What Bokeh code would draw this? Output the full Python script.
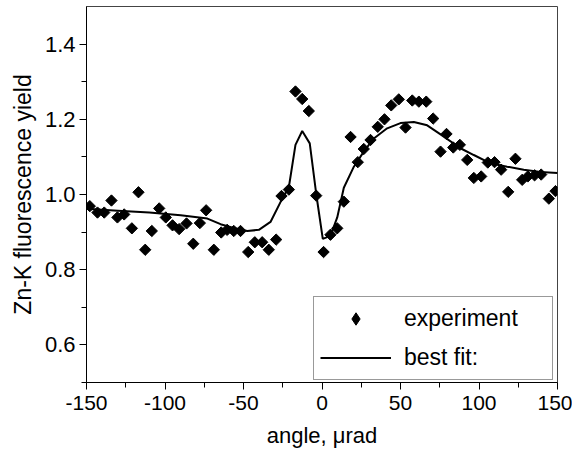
import numpy as np
from bokeh.plotting import figure
from bokeh.models import Range1d, Legend, LegendItem, FixedTicker, CustomJSTickFormatter
from bokeh.embed import file_html
from bokeh.resources import INLINE

# experimental points (angle in µrad, Zn-K fluorescence yield)
exp_x = [-147.9, -143.0, -138.7, -134.1, -130.3, -126.0, -121.1, -116.9, -112.6, -108.4,
         -103.7, -99.5, -95.2, -91.0, -86.3, -82.0, -77.8, -73.8, -68.9, -64.2,
         -60.4, -56.2, -51.9, -47.0, -42.8, -38.1, -33.9, -29.2, -25.8, -21.1,
         -16.9, -12.6, -8.4, -3.7, 1.0, 5.4, 9.7, 13.9, 18.2, 22.8,
         26.6, 30.9, 35.5, 39.8, 44.1, 48.9, 53.2, 57.5, 61.7, 66.4,
         70.8, 75.5, 79.3, 83.6, 87.8, 92.5, 96.7, 101.4, 105.6, 109.9,
         114.1, 118.6, 123.2, 127.5, 131.1, 135.4, 139.6, 144.5, 148.7]
exp_y = [0.969, 0.952, 0.952, 0.984, 0.939, 0.947, 0.910, 1.006, 0.853, 0.903,
         0.963, 0.939, 0.918, 0.908, 0.923, 0.869, 0.924, 0.958, 0.853, 0.899,
         0.906, 0.903, 0.903, 0.847, 0.873, 0.873, 0.853, 0.880, 0.996, 1.013,
         1.274, 1.254, 1.222, 0.997, 0.847, 0.893, 0.910, 0.981, 1.153, 1.086,
         1.121, 1.145, 1.180, 1.200, 1.237, 1.253, 1.178, 1.250, 1.247, 1.247,
         1.202, 1.114, 1.161, 1.125, 1.132, 1.092, 1.044, 1.048, 1.085, 1.086,
         1.066, 1.007, 1.095, 1.039, 1.048, 1.051, 1.053, 0.989, 1.009]

# best-fit curve
fit_x = [-150, -130, -110, -90, -73, -64.6, -56.2, -47.6, -40.2, -32.8,
         -25.8, -21.1, -16.9, -12.6, -7.8, -3.5, 0.5, 5.4, 9.7, 13.9,
         20.3, 26.6, 33, 41.5, 50, 58.5, 67, 75.5, 88.2, 96.7,
         107.3, 117.9, 128.5, 139.2, 150]
fit_y = [0.962, 0.957, 0.952, 0.945, 0.936, 0.921, 0.911, 0.903, 0.906, 0.927,
         0.985, 1.020, 1.132, 1.169, 1.136, 0.996, 0.882, 0.890, 0.939, 1.018,
         1.074, 1.114, 1.149, 1.176, 1.190, 1.193, 1.184, 1.160, 1.123, 1.105,
         1.083, 1.074, 1.066, 1.060, 1.057]

x_ticks = [-150, -100, -50, 0, 50, 100, 150]
x_minor = [-125, -75, -25, 25, 75, 125]
y_ticks = [0.6, 0.8, 1.0, 1.2, 1.4]
y_minor = [0.5, 0.7, 0.9, 1.1, 1.3]

FONT = "Liberation Sans"

p = figure(width=572, height=450, output_backend="svg", toolbar_location=None,
           x_range=Range1d(-150, 150), y_range=Range1d(0.5, 1.5),
           min_border_left=86, min_border_right=15, min_border_top=6,
           min_border_bottom=65)
p.grid.visible = False
p.background_fill_color = "white"
p.border_fill_color = "white"
p.outline_line_color = "#444444"
p.outline_line_width = 1

fit_r = p.line(fit_x, fit_y, line_color="black", line_width=2)
exp_r = p.scatter(exp_x, exp_y, marker="square", size=8, angle=np.pi / 4,
                  fill_color="black", line_color="black")
# legend-only glyph (diamond swatch); NaN position so nothing is drawn in the plot
leg_r = p.scatter(x=[np.nan], y=[np.nan], marker="diamond",
                  fill_color="black", line_color="black")

for ax in (p.xaxis[0], p.yaxis[0]):
    ax.axis_line_color = "black"
    ax.major_tick_line_color = "black"
    ax.minor_tick_line_color = "black"
    ax.major_tick_in = 0
    ax.minor_tick_in = 0
    ax.major_tick_out = 7
    ax.minor_tick_out = 5
    ax.major_label_text_font = FONT
    ax.major_label_text_color = "black"
    ax.axis_label_text_font = FONT
    ax.axis_label_text_font_style = "normal"
    ax.axis_label_text_color = "black"

p.xaxis[0].ticker = FixedTicker(ticks=x_ticks, minor_ticks=x_minor)
p.yaxis[0].ticker = FixedTicker(ticks=y_ticks, minor_ticks=y_minor)
p.xaxis[0].formatter = CustomJSTickFormatter(code="return tick.toFixed(0);")
p.yaxis[0].formatter = CustomJSTickFormatter(code="return tick.toFixed(1);")

p.xaxis.major_label_text_font_size = "21px"
p.yaxis.major_label_text_font_size = "22px"

p.xaxis.axis_label = "angle, \u03bcrad"
p.xaxis.axis_label_text_font_size = "22px"
p.xaxis.major_label_standoff = 6
p.xaxis.axis_label_standoff = 10
p.yaxis.axis_label = "Zn-K fluorescence yield"
p.yaxis.axis_label_text_font_size = "23px"
p.yaxis.major_label_standoff = 4
p.yaxis.axis_label_standoff = 6

legend = Legend(items=[LegendItem(label="experiment", renderers=[leg_r]),
                       LegendItem(label="best fit:", renderers=[fit_r])],
                location=(227, 2), padding=6, spacing=8,
                glyph_width=71, glyph_height=31, label_height=31,
                label_width=142, label_standoff=13,
                label_text_font=FONT, label_text_font_size="23px",
                label_text_color="black",
                border_line_color="#333333", border_line_width=1,
                background_fill_color="white", background_fill_alpha=1.0)
p.add_layout(legend, "center")

html = file_html(p, INLINE)
open("out.html", "w").write(html)
